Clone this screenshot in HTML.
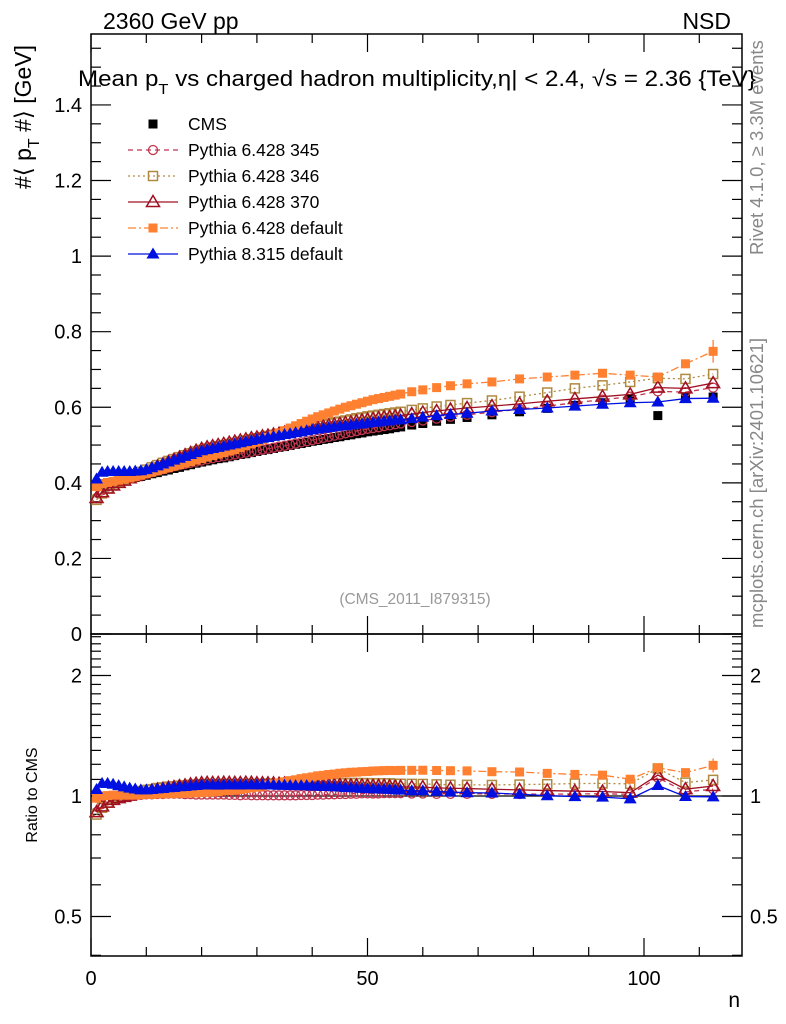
<!DOCTYPE html>
<html><head><meta charset="utf-8"><style>
body{margin:0;background:#fff;}
svg{display:block;font-family:"Liberation Sans",sans-serif;}
</style></head><body>
<svg id="c" width="786" height="1024" viewBox="0 0 786 1024"></svg>
<script>
const nVals=[1,2,3,4,5,6,7,8,9,10,11,12,13,14,15,16,17,18,19,20,21,22,23,24,25,26,27,28,29,30,31,32,33,34,35,36,37,38,39,40,41,42,43,44,45,46,47,48,49,50,51,52,53,54,55,56,58,60,62.5,65,68,72.5,77.5,82.5,87.5,92.5,97.5,102.5,107.5,112.5];
const cms=[0.395,0.398,0.400,0.402,0.405,0.408,0.411,0.414,0.417,0.420,0.424,0.427,0.431,0.434,0.438,0.441,0.445,0.448,0.452,0.455,0.458,0.461,0.464,0.466,0.469,0.472,0.475,0.477,0.480,0.483,0.486,0.488,0.491,0.494,0.496,0.499,0.502,0.504,0.507,0.510,0.512,0.515,0.517,0.520,0.522,0.525,0.527,0.530,0.532,0.535,0.537,0.539,0.541,0.543,0.546,0.548,0.553,0.557,0.563,0.568,0.573,0.580,0.588,0.597,0.605,0.612,0.622,0.578,0.625,0.627];
const p345=[0.360,0.380,0.390,0.398,0.403,0.408,0.412,0.416,0.420,0.424,0.428,0.432,0.436,0.440,0.444,0.447,0.450,0.453,0.456,0.459,0.462,0.465,0.468,0.470,0.472,0.475,0.477,0.480,0.482,0.485,0.488,0.490,0.493,0.496,0.498,0.501,0.504,0.507,0.510,0.513,0.516,0.519,0.522,0.525,0.528,0.531,0.534,0.537,0.540,0.543,0.545,0.547,0.550,0.552,0.555,0.557,0.561,0.565,0.570,0.575,0.580,0.587,0.595,0.603,0.612,0.620,0.628,0.642,0.640,0.652];
const p346=[0.355,0.372,0.385,0.395,0.403,0.410,0.417,0.423,0.429,0.435,0.441,0.447,0.453,0.458,0.463,0.468,0.473,0.478,0.483,0.487,0.491,0.494,0.497,0.500,0.503,0.506,0.509,0.512,0.515,0.518,0.521,0.524,0.527,0.530,0.533,0.536,0.539,0.542,0.545,0.548,0.551,0.554,0.557,0.560,0.562,0.565,0.568,0.571,0.573,0.576,0.578,0.580,0.582,0.584,0.586,0.588,0.593,0.597,0.602,0.606,0.611,0.618,0.628,0.639,0.650,0.658,0.667,0.677,0.675,0.688];
const p370=[0.360,0.375,0.385,0.393,0.400,0.406,0.412,0.418,0.424,0.430,0.437,0.443,0.449,0.455,0.461,0.467,0.473,0.479,0.485,0.490,0.494,0.497,0.500,0.503,0.506,0.509,0.512,0.515,0.518,0.520,0.523,0.525,0.528,0.530,0.533,0.535,0.538,0.540,0.543,0.545,0.547,0.549,0.552,0.554,0.556,0.558,0.560,0.563,0.565,0.567,0.569,0.571,0.573,0.574,0.576,0.578,0.582,0.586,0.590,0.594,0.598,0.603,0.609,0.616,0.622,0.628,0.634,0.652,0.650,0.664];
const pdef=[0.390,0.398,0.401,0.404,0.407,0.410,0.413,0.416,0.420,0.424,0.428,0.432,0.436,0.440,0.444,0.448,0.452,0.456,0.460,0.464,0.468,0.472,0.476,0.480,0.484,0.488,0.493,0.498,0.503,0.508,0.514,0.520,0.526,0.532,0.538,0.545,0.551,0.557,0.563,0.569,0.575,0.580,0.585,0.590,0.595,0.600,0.604,0.608,0.612,0.616,0.620,0.623,0.626,0.629,0.632,0.635,0.641,0.646,0.652,0.657,0.662,0.667,0.675,0.680,0.685,0.690,0.685,0.680,0.715,0.748];
const p8=[0.410,0.428,0.430,0.430,0.430,0.430,0.430,0.431,0.432,0.435,0.440,0.445,0.450,0.455,0.460,0.465,0.470,0.475,0.480,0.485,0.488,0.491,0.494,0.497,0.500,0.503,0.506,0.509,0.512,0.515,0.518,0.520,0.523,0.525,0.528,0.530,0.533,0.535,0.538,0.540,0.542,0.544,0.546,0.548,0.550,0.551,0.553,0.555,0.556,0.558,0.560,0.561,0.563,0.564,0.566,0.567,0.570,0.574,0.578,0.581,0.584,0.590,0.594,0.598,0.603,0.608,0.612,0.614,0.623,0.624];
const yTicks=["0","0.2","0.4","0.6","0.8","1","1.2","1.4"];
const xTicks=["0","50","100"];
const rTicks=["0.5","1","2"];

const NS="http://www.w3.org/2000/svg";
const svg=document.getElementById('c');
const L=91,R=742,T=34,MB=634,RB=956;
const X=v=>L+v*5.53;
const Y=v=>MB-v*377.9;
const RY=v=>796-Math.log2(v)*120.5;
function el(tag,attrs,parent){const e=document.createElementNS(NS,tag);for(const k in attrs)e.setAttribute(k,attrs[k]);(parent||svg).appendChild(e);return e;}
function txt(s,x,y,attrs){const t=el('text',Object.assign({x:x,y:y},attrs||{}));t.textContent=s;return t;}

const f1=el('rect',{x:L,y:T,width:R-L,height:MB-T,fill:'none',stroke:'#000','stroke-width':1.5});


const f2=el('rect',{x:L,y:MB,width:R-L,height:RB-MB,fill:'none',stroke:'#000','stroke-width':1.5});



for(let v=0;v<=115;v+=10){
  const big=v%50===0;const l=big?18:9;const x=X(v);
  el('line',{x1:x,y1:MB,x2:x,y2:MB-l,stroke:'#000','stroke-width':1.2});
  el('line',{x1:x,y1:T,x2:x,y2:T+l,stroke:'#000','stroke-width':1.2});
  el('line',{x1:x,y1:RB,x2:x,y2:RB-l,stroke:'#000','stroke-width':1.2});
  el('line',{x1:x,y1:MB,x2:x,y2:MB+l,stroke:'#000','stroke-width':1.2});
}
xTicks.forEach(s=>{const t=txt(s,X(+s),985,{'font-size':20,'text-anchor':'middle'});

});
const xt=txt('n',740,1007,{'font-size':21,'text-anchor':'end'});



for(let i=0;i<=31;i++){const v=i*0.05;const y=Y(v);if(y<T)break;const big=i%4===0;const l=big?20:10;
  el('line',{x1:L,y1:y,x2:L+l,y2:y,stroke:'#000','stroke-width':1.2});
  el('line',{x1:R,y1:y,x2:R-l,y2:y,stroke:'#000','stroke-width':1.2});}
yTicks.forEach(s=>{const t=txt(s,82,Y(+s)+7,{'font-size':20,'text-anchor':'end'});

});

const rMinor=[0.4,0.5,0.6,0.7,0.8,0.9,1,1.1,1.2,1.3,1.4,1.5,1.6,1.7,1.8,1.9,2,2.1,2.2,2.3,2.4,2.5];
rMinor.forEach(v=>{const y=RY(v);if(y<MB||y>RB)return;const big=(v===0.5||v===1||v===2);const l=big?20:10;
  el('line',{x1:L,y1:y,x2:L+l,y2:y,stroke:'#000','stroke-width':1.2});
  el('line',{x1:R,y1:y,x2:R-l,y2:y,stroke:'#000','stroke-width':1.2});});
rTicks.forEach(s=>{const t=txt(s,82,RY(+s)+7,{'font-size':20,'text-anchor':'end'});


const t2=txt(s,750,RY(+s)+7,{'font-size':20});

});
el('line',{x1:L,y1:RY(1),x2:R,y2:RY(1),stroke:'#000','stroke-width':1.2});

const tt=txt('2360 GeV pp',103,29,{'font-size':23});

const ns=txt('NSD',731,29,{'font-size':23,'text-anchor':'end'});

const title=txt('',78,86,{'font-size':22,textLength:678,lengthAdjust:'spacingAndGlyphs'});
title.innerHTML='Mean p<tspan font-size="15" dy="8">T</tspan><tspan dy="-8"> vs charged hadron multiplicity,</tspan><tspan>η| &lt; 2.4, √s = 2.36 {TeV}</tspan>';

const yl=txt('',0,0,{'font-size':23,transform:'translate(31,117) rotate(-90)','text-anchor':'middle'});
yl.innerHTML='#⟨ p<tspan font-size="16" dy="8">T</tspan><tspan dy="-8"> #⟩ [GeV]</tspan>';

const rl=txt('Ratio to CMS',0,0,{'font-size':16,transform:'translate(37,795) rotate(-90)','text-anchor':'middle'});

const rv=txt('Rivet 4.1.0, ≥ 3.3M events',0,0,{'font-size':18.5,fill:'#888',transform:'translate(763,255) rotate(-90)'});

const mc=txt('mcplots.cern.ch [arXiv:2401.10621]',0,0,{'font-size':18.5,fill:'#888',transform:'translate(763,628) rotate(-90)'});

const an=txt('(CMS_2011_I879315)',415,604,{'font-size':15.5,fill:'#999','text-anchor':'middle'});


function marker(g,type,x,y,c){
  if(type==='sqf')el('rect',{x:x-4.5,y:y-4.5,width:9,height:9,fill:c},g);
  else if(type==='sqo')el('rect',{x:x-4.5,y:y-4.5,width:9,height:9,fill:'none',stroke:c,'stroke-width':1.5},g);
  else if(type==='cir')el('circle',{cx:x,cy:y,r:4.5,fill:'none',stroke:c,'stroke-width':1.3},g);
  else if(type==='tri')el('polygon',{points:`${x},${y-6.5} ${x-6.5},${y+4.5} ${x+6.5},${y+4.5}`,fill:'none',stroke:c,'stroke-width':1.5},g);
  else if(type==='trf')el('polygon',{points:`${x},${y-6.5} ${x-6.5},${y+4.5} ${x+6.5},${y+4.5}`,fill:c},g);
}
const series=[
 {name:'Pythia 6.428 345',d:p345,c:'#c0354f',m:'cir',dash:'5,4',key:'series-p345'},
 {name:'Pythia 6.428 346',d:p346,c:'#b08a40',m:'sqo',dash:'2,3',key:'series-p346'},
 {name:'Pythia 6.428 370',d:p370,c:'#a01020',m:'tri',dash:'',key:'series-p370'},
 {name:'Pythia 6.428 default',d:pdef,c:'#ff8030',m:'sqf',dash:'8,3,2,3',key:'series-p6-default'},
 {name:'Pythia 8.315 default',d:p8,c:'#0010e0',m:'trf',dash:'',key:'series-p8-default'}
];
const gc=el('g',{});


nVals.forEach((n,i)=>marker(gc,'sqf',X(n),Y(cms[i]),'#000'));
series.forEach(s=>{
  const g=el('g',{});
  
  
  const pts=nVals.map((n,i)=>X(n)+','+Y(s.d[i])).join(' ');
  el('polyline',{points:pts,fill:'none',stroke:s.c,'stroke-width':1.3,'stroke-dasharray':s.dash},g);
  nVals.forEach((n,i)=>marker(g,s.m,X(n),Y(s.d[i]),s.c));
  const gr=el('g',{});
  
  
  const rp=nVals.map((n,i)=>X(n)+','+RY(s.d[i]/cms[i])).join(' ');
  el('polyline',{points:rp,fill:'none',stroke:s.c,'stroke-width':1.3,'stroke-dasharray':s.dash},gr);
  nVals.forEach((n,i)=>marker(gr,s.m,X(n),RY(s.d[i]/cms[i]),s.c));
});
const li=nVals.length-1;
el('line',{x1:X(nVals[li]),y1:Y(pdef[li]+0.03),x2:X(nVals[li]),y2:Y(pdef[li]-0.03),stroke:'#ff8030','stroke-width':1.3});
el('line',{x1:X(nVals[li]),y1:RY((pdef[li]+0.03)/cms[li]),x2:X(nVals[li]),y2:RY((pdef[li]-0.03)/cms[li]),stroke:'#ff8030','stroke-width':1.3});

const legItems=[{name:'CMS',c:'#000',m:'sqf',dash:null,key:'legend-cms'}].concat(series.map(s=>({name:s.name,c:s.c,m:s.m,dash:s.dash,key:'legend-'+s.key.replace('series-','')})));
legItems.forEach((it,i)=>{
  const y=124+i*26;
  const g=el('g',{});
  
  
  if(it.dash!==null)el('line',{x1:128,y1:y,x2:178,y2:y,stroke:it.c,'stroke-width':1.3,'stroke-dasharray':it.dash},g);
  marker(g,it.m,153,y,it.c);
  const t=el('text',{x:188,y:y+6,'font-size':17.5},g);t.textContent=it.name;
});
</script>
</body></html>
